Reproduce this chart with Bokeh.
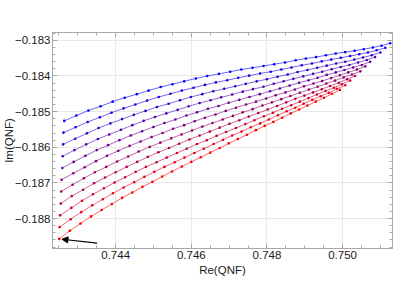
import math
from bokeh.plotting import figure
from bokeh.models import (Range1d, LinearAxis, SingleIntervalTicker, CustomJSTickFormatter,
                          Arrow, NormalHead)
from bokeh.embed import file_html
from bokeh.resources import INLINE

# ---- data ----
re_0 = [0.74264, 0.74296, 0.74328, 0.74360, 0.74392, 0.74424, 0.74456, 0.74487, 0.74519, 0.74550, 0.74581, 0.74612, 0.74642, 0.74673, 0.74703, 0.74732, 0.74762, 0.74791, 0.74819, 0.74848, 0.74876, 0.74903, 0.74930, 0.74956, 0.74982, 0.75007, 0.75032, 0.75056, 0.75080, 0.75103, 0.75126]
im_0 = [-0.18526, -0.18511, -0.18497, -0.18485, -0.18472, -0.18461, -0.18451, -0.18441, -0.18431, -0.18423, -0.18415, -0.18407, -0.18400, -0.18394, -0.18388, -0.18382, -0.18377, -0.18372, -0.18367, -0.18362, -0.18356, -0.18351, -0.18347, -0.18342, -0.18337, -0.18333, -0.18329, -0.18325, -0.18320, -0.18315, -0.18308]

re_1 = [0.74262, 0.74294, 0.74326, 0.74358, 0.74389, 0.74421, 0.74452, 0.74483, 0.74514, 0.74545, 0.74575, 0.74606, 0.74636, 0.74665, 0.74695, 0.74724, 0.74753, 0.74782, 0.74810, 0.74838, 0.74865, 0.74892, 0.74919, 0.74945, 0.74970, 0.74995, 0.75020, 0.75044, 0.75067, 0.75090, 0.75113]
im_1 = [-0.18559, -0.18544, -0.18529, -0.18516, -0.18503, -0.18491, -0.18480, -0.18469, -0.18459, -0.18450, -0.18441, -0.18433, -0.18425, -0.18418, -0.18412, -0.18405, -0.18399, -0.18393, -0.18388, -0.18382, -0.18376, -0.18370, -0.18365, -0.18359, -0.18354, -0.18349, -0.18344, -0.18339, -0.18334, -0.18328, -0.18321]

re_2 = [0.74261, 0.74293, 0.74324, 0.74355, 0.74386, 0.74417, 0.74448, 0.74479, 0.74509, 0.74540, 0.74570, 0.74599, 0.74629, 0.74658, 0.74687, 0.74716, 0.74744, 0.74773, 0.74800, 0.74828, 0.74855, 0.74881, 0.74907, 0.74933, 0.74958, 0.74983, 0.75007, 0.75031, 0.75054, 0.75077, 0.75100]
im_2 = [-0.18592, -0.18576, -0.18561, -0.18546, -0.18533, -0.18521, -0.18509, -0.18498, -0.18487, -0.18478, -0.18468, -0.18459, -0.18451, -0.18443, -0.18436, -0.18429, -0.18422, -0.18415, -0.18409, -0.18402, -0.18396, -0.18389, -0.18383, -0.18377, -0.18371, -0.18365, -0.18360, -0.18354, -0.18348, -0.18342, -0.18334]

re_3 = [0.74260, 0.74291, 0.74322, 0.74353, 0.74383, 0.74414, 0.74444, 0.74474, 0.74504, 0.74534, 0.74564, 0.74593, 0.74622, 0.74651, 0.74679, 0.74708, 0.74736, 0.74763, 0.74791, 0.74818, 0.74844, 0.74870, 0.74896, 0.74922, 0.74946, 0.74971, 0.74995, 0.75018, 0.75041, 0.75064, 0.75086]
im_3 = [-0.18625, -0.18608, -0.18592, -0.18577, -0.18564, -0.18551, -0.18538, -0.18526, -0.18515, -0.18505, -0.18495, -0.18485, -0.18476, -0.18468, -0.18460, -0.18452, -0.18444, -0.18437, -0.18430, -0.18422, -0.18415, -0.18408, -0.18401, -0.18394, -0.18388, -0.18381, -0.18375, -0.18369, -0.18362, -0.18355, -0.18347]

re_4 = [0.74259, 0.74289, 0.74320, 0.74350, 0.74380, 0.74410, 0.74440, 0.74470, 0.74500, 0.74529, 0.74558, 0.74587, 0.74615, 0.74644, 0.74672, 0.74699, 0.74727, 0.74754, 0.74781, 0.74808, 0.74834, 0.74860, 0.74885, 0.74910, 0.74934, 0.74958, 0.74982, 0.75005, 0.75028, 0.75051, 0.75073]
im_4 = [-0.18658, -0.18641, -0.18624, -0.18608, -0.18594, -0.18580, -0.18567, -0.18555, -0.18543, -0.18532, -0.18522, -0.18511, -0.18502, -0.18492, -0.18484, -0.18475, -0.18467, -0.18459, -0.18451, -0.18443, -0.18435, -0.18427, -0.18419, -0.18412, -0.18405, -0.18397, -0.18390, -0.18383, -0.18376, -0.18369, -0.18360]

re_5 = [0.74257, 0.74288, 0.74318, 0.74348, 0.74377, 0.74407, 0.74437, 0.74466, 0.74495, 0.74524, 0.74552, 0.74581, 0.74609, 0.74636, 0.74664, 0.74691, 0.74718, 0.74745, 0.74771, 0.74798, 0.74823, 0.74849, 0.74874, 0.74898, 0.74923, 0.74946, 0.74970, 0.74993, 0.75015, 0.75038, 0.75060]
im_5 = [-0.18691, -0.18673, -0.18656, -0.18639, -0.18624, -0.18610, -0.18596, -0.18584, -0.18571, -0.18560, -0.18548, -0.18538, -0.18527, -0.18517, -0.18508, -0.18498, -0.18489, -0.18480, -0.18472, -0.18463, -0.18454, -0.18446, -0.18438, -0.18429, -0.18421, -0.18414, -0.18406, -0.18398, -0.18390, -0.18382, -0.18373]

re_6 = [0.74256, 0.74286, 0.74316, 0.74345, 0.74375, 0.74404, 0.74433, 0.74461, 0.74490, 0.74518, 0.74547, 0.74574, 0.74602, 0.74629, 0.74656, 0.74683, 0.74710, 0.74736, 0.74762, 0.74788, 0.74813, 0.74838, 0.74862, 0.74887, 0.74911, 0.74934, 0.74957, 0.74980, 0.75003, 0.75025, 0.75047]
im_6 = [-0.18724, -0.18705, -0.18687, -0.18670, -0.18655, -0.18640, -0.18626, -0.18612, -0.18599, -0.18587, -0.18575, -0.18564, -0.18553, -0.18542, -0.18532, -0.18522, -0.18512, -0.18502, -0.18493, -0.18483, -0.18474, -0.18465, -0.18456, -0.18447, -0.18438, -0.18430, -0.18421, -0.18413, -0.18404, -0.18396, -0.18387]

re_7 = [0.74255, 0.74284, 0.74314, 0.74343, 0.74372, 0.74400, 0.74429, 0.74457, 0.74485, 0.74513, 0.74541, 0.74568, 0.74595, 0.74622, 0.74649, 0.74675, 0.74701, 0.74727, 0.74752, 0.74777, 0.74802, 0.74827, 0.74851, 0.74875, 0.74899, 0.74922, 0.74945, 0.74967, 0.74990, 0.75012, 0.75033]
im_7 = [-0.18758, -0.18737, -0.18719, -0.18701, -0.18685, -0.18670, -0.18655, -0.18641, -0.18627, -0.18614, -0.18602, -0.18590, -0.18578, -0.18567, -0.18556, -0.18545, -0.18534, -0.18524, -0.18514, -0.18504, -0.18494, -0.18484, -0.18474, -0.18464, -0.18455, -0.18446, -0.18437, -0.18428, -0.18419, -0.18409, -0.18400]

re_8 = [0.74253, 0.74283, 0.74311, 0.74340, 0.74369, 0.74397, 0.74425, 0.74453, 0.74480, 0.74508, 0.74535, 0.74562, 0.74588, 0.74615, 0.74641, 0.74667, 0.74692, 0.74718, 0.74743, 0.74767, 0.74792, 0.74816, 0.74840, 0.74864, 0.74887, 0.74910, 0.74932, 0.74955, 0.74977, 0.74998, 0.75020]
im_8 = [-0.18791, -0.18770, -0.18750, -0.18732, -0.18715, -0.18699, -0.18684, -0.18669, -0.18655, -0.18642, -0.18629, -0.18616, -0.18604, -0.18591, -0.18580, -0.18568, -0.18557, -0.18546, -0.18535, -0.18524, -0.18513, -0.18503, -0.18492, -0.18482, -0.18472, -0.18462, -0.18452, -0.18442, -0.18433, -0.18423, -0.18413]

re_9 = [0.74252, 0.74281, 0.74309, 0.74338, 0.74366, 0.74393, 0.74421, 0.74449, 0.74476, 0.74502, 0.74529, 0.74556, 0.74582, 0.74608, 0.74633, 0.74659, 0.74684, 0.74708, 0.74733, 0.74757, 0.74782, 0.74805, 0.74829, 0.74852, 0.74875, 0.74897, 0.74920, 0.74942, 0.74964, 0.74985, 0.75007]
im_9 = [-0.18824, -0.18802, -0.18782, -0.18763, -0.18746, -0.18729, -0.18713, -0.18698, -0.18683, -0.18669, -0.18655, -0.18642, -0.18629, -0.18616, -0.18604, -0.18591, -0.18579, -0.18567, -0.18556, -0.18544, -0.18533, -0.18522, -0.18510, -0.18499, -0.18489, -0.18478, -0.18467, -0.18457, -0.18447, -0.18436, -0.18426]

re_10 = [0.74251, 0.74279, 0.74307, 0.74335, 0.74363, 0.74390, 0.74417, 0.74444, 0.74471, 0.74497, 0.74523, 0.74549, 0.74575, 0.74600, 0.74625, 0.74650, 0.74675, 0.74699, 0.74723, 0.74747, 0.74771, 0.74794, 0.74817, 0.74840, 0.74863, 0.74885, 0.74907, 0.74929, 0.74951, 0.74972, 0.74993]
im_10 = [-0.18857, -0.18834, -0.18814, -0.18794, -0.18776, -0.18759, -0.18742, -0.18727, -0.18711, -0.18697, -0.18682, -0.18668, -0.18654, -0.18641, -0.18628, -0.18615, -0.18602, -0.18589, -0.18577, -0.18565, -0.18552, -0.18540, -0.18529, -0.18517, -0.18505, -0.18494, -0.18483, -0.18472, -0.18461, -0.18450, -0.18439]

curves_re = [re_0, re_1, re_2, re_3, re_4, re_5, re_6, re_7, re_8, re_9, re_10]
curves_im = [im_0, im_1, im_2, im_3, im_4, im_5, im_6, im_7, im_8, im_9, im_10]

# arrow annotation (tail -> tip), pointing at the start of the last curve
arrow_tail = (0.74351, -0.18869)
arrow_tip = (0.74258, -0.18858)

x_lo, x_hi = 0.74233, 0.75132
y_lo, y_hi = -0.18884, -0.18278

FONT = "Liberation Sans"
FRAME = "#a8a8a8"
TXT = "#1a1a1a"

p = figure(width=393, height=291, output_backend="svg", toolbar_location=None,
           x_range=Range1d(x_lo, x_hi), y_range=Range1d(y_lo, y_hi),
           min_border_left=49, min_border_right=1, min_border_top=32, min_border_bottom=43,
           x_axis_label="Re(QNF)", y_axis_label="Im(QNF)")
p.background_fill_color = "white"
p.border_fill_color = "white"
p.outline_line_color = FRAME

xt = SingleIntervalTicker(interval=0.002, num_minor_ticks=4)
yt = SingleIntervalTicker(interval=0.001, num_minor_ticks=5)
p.xaxis.ticker = xt
p.yaxis.ticker = yt
p.xaxis.formatter = CustomJSTickFormatter(code="return tick.toFixed(3);")
p.yaxis.formatter = CustomJSTickFormatter(code="return tick.toFixed(3).replace('-', '\u2212');")

p.xgrid.grid_line_color = "#e9e9e9"
p.ygrid.grid_line_color = "#e9e9e9"

def style_axis(ax):
    ax.axis_line_color = FRAME
    ax.major_tick_line_color = FRAME
    ax.minor_tick_line_color = FRAME
    ax.major_tick_in = 5
    ax.major_tick_out = 0
    ax.minor_tick_in = 3
    ax.minor_tick_out = 0
    ax.major_label_text_font = FONT
    ax.major_label_text_font_size = "11.5px"
    ax.major_label_text_color = TXT
    ax.major_label_standoff = 2
    ax.axis_label_text_font = FONT
    ax.axis_label_text_font_size = "11.5px"
    ax.axis_label_text_font_style = "normal"
    ax.axis_label_text_color = TXT
    ax.axis_label_standoff = 2

for ax in p.xaxis + p.yaxis:
    style_axis(ax)
p.yaxis.axis_label_standoff = -3

blank = CustomJSTickFormatter(code="return '';")
right_ax = LinearAxis(ticker=yt, formatter=blank)
top_ax = LinearAxis(ticker=xt, formatter=blank)
for ax in (right_ax, top_ax):
    style_axis(ax)
    ax.major_label_standoff = 0
p.add_layout(right_ax, "right")
p.add_layout(top_ax, "above")

n = len(curves_re)
for i, (xs, ys) in enumerate(zip(curves_re, curves_im)):
    t = i / (n - 1)
    col = "#%02x%02x%02x" % (int(round(255 * t)), 0, int(round(255 * (1 - t))))
    p.line(xs, ys, line_color=col, line_width=1, line_alpha=0.6)
    p.scatter(xs, ys, size=2.6, fill_color=col, line_color=None)

p.add_layout(Arrow(end=NormalHead(size=6, fill_color="black", line_color="black", line_width=1),
                   x_start=arrow_tail[0], y_start=arrow_tail[1],
                   x_end=arrow_tip[0], y_end=arrow_tip[1],
                   line_color="black", line_width=1.2))

open("out.html", "w").write(file_html(p, INLINE))
